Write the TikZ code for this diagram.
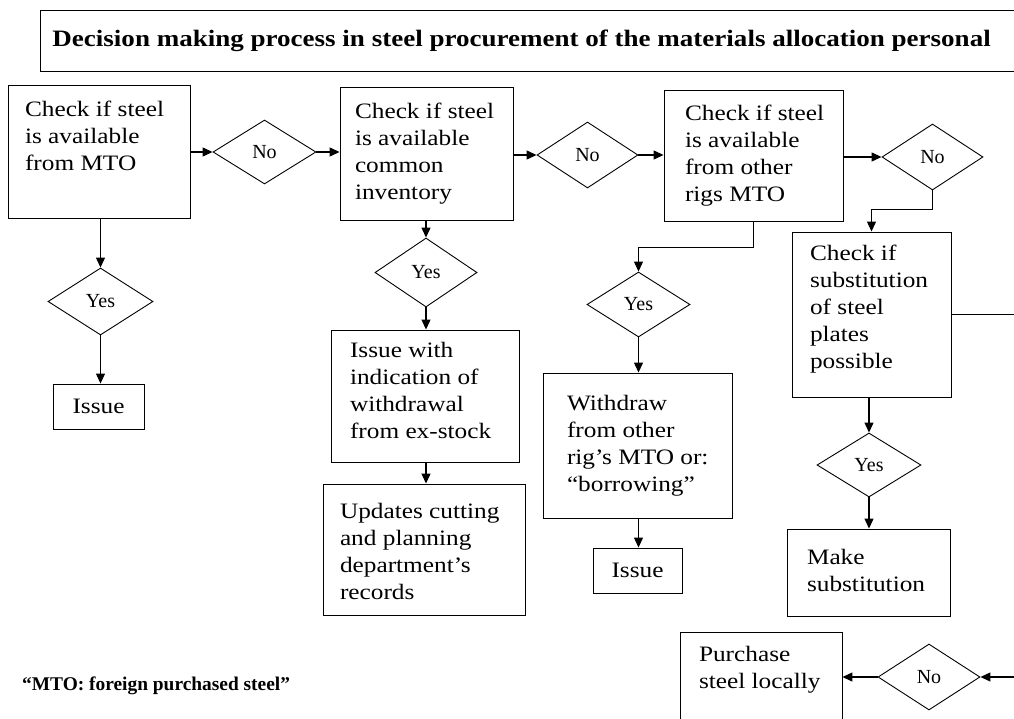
\documentclass[tikz,border=0pt]{standalone}
\usepackage{fontspec}
\setmainfont{Liberation Serif}[FakeStretch=1.15]
\newfontfamily\plainserif{Liberation Serif}
\usetikzlibrary{shapes.geometric,arrows.meta,calc}
% left-aligned block of lines in a fixed-width slot, optionally raised
\newcommand{\leftlines}[3][0]{\makebox[#2pt][l]{\raisebox{#1pt}[\height][\depth]{\begin{tabular}{@{}l@{}}#3\end{tabular}}}}
\tikzset{
  box/.style={draw, line width=0.9pt, inner sep=0pt, rectangle,
    font=\fontsize{22}{27}\selectfont},
  dia/.style={draw, diamond, line width=0.9pt, inner sep=0pt,
    font=\plainserif\fontsize{20}{24}\selectfont},
  arr/.style={line width=1.2pt, -{Triangle[length=10pt,width=9pt]}},
}
\begin{document}
\begin{tikzpicture}[x=1pt,y=-1pt]
\useasboundingbox (0,0) rectangle (1014,719);
\fill[white] (0,0) rectangle (1014,719);
\clip (0,0) rectangle (1014,719);

% heading
\node[box, anchor=north west, minimum width=1000pt, minimum height=61pt,
  font=\fontsize{23.5}{28}\selectfont\bfseries] (title) at (40,10)
  {\leftlines{976}{Decision making process in steel procurement of the materials allocation personal}};

% column 1: own MTO
\node[box, minimum width=182pt, minimum height=133pt] (chkmto) at (99,151.5)
  {\leftlines{148}{Check if steel\\is available\\from MTO\\~}};
\node[dia, minimum width=105pt, minimum height=67pt] (yesmto) at (100.5,301.5) {Yes};
\node[box, minimum width=91pt, minimum height=45pt] (issuemto) at (98.5,406.5) {Issue};

\node[dia, minimum width=103pt, minimum height=64pt] (nomto) at (264.5,152) {No};

% column 2: common inventory
\node[box, minimum width=173pt, minimum height=133pt] (chkinv) at (426.5,153.5)
  {\leftlines{143}{Check if steel\\is available\\common\\inventory}};
\node[dia, minimum width=102pt, minimum height=69pt] (yesinv) at (426,272.5) {Yes};
\node[box, minimum width=188pt, minimum height=132pt] (issueinv) at (425,396)
  {\leftlines[3]{150}{Issue with\\indication of\\withdrawal\\from ex-stock}};
\node[box, minimum width=202pt, minimum height=131pt] (update) at (424,549.5)
  {\leftlines[-4]{168}{Updates cutting\\and planning\\department's\\records}};

\node[dia, minimum width=101pt, minimum height=66pt] (noinv) at (587.5,155) {No};

% column 3: other rigs
\node[box, minimum width=179pt, minimum height=131pt] (chkrig) at (753.5,155.5)
  {\leftlines{137}{Check if steel\\is available\\from other\\rigs MTO}};
\node[dia, minimum width=103pt, minimum height=65pt] (yesrig) at (638.5,304.5) {Yes};
\node[box, minimum width=189pt, minimum height=145pt] (withdraw) at (637.5,445.5)
  {\leftlines{141}{Withdraw\\from other\\rig's MTO or:\\“borrowing”}};
\node[box, minimum width=89pt, minimum height=45pt] (issuerig) at (637.5,570.5) {Issue};

\node[dia, minimum width=101pt, minimum height=66pt] (norig) at (932.5,157) {No};

% column 4: substitution
\node[box, minimum width=159pt, minimum height=165pt] (chksub) at (871.5,314.5)
  {\leftlines[5]{123}{Check if\\substitution\\of steel\\plates\\possible}};
\node[dia, minimum width=104pt, minimum height=64pt] (yessub) at (869,465) {Yes};
\node[box, minimum width=163pt, minimum height=87pt] (makesub) at (868.5,572.5)
  {\leftlines{123}{Make\\substitution}};
\node[dia, minimum width=102pt, minimum height=66pt] (nosub) at (929,677) {No};
\node[box, minimum width=162pt, minimum height=124pt] (purchase) at (761,694)
  {\leftlines[-3]{124}{Purchase\\steel locally\\~\\~}};

% footnote
\node[anchor=west, inner sep=0pt, font=\plainserif\fontsize{19.4}{23}\selectfont\bfseries]
  (note) at (22,686) {“MTO: foreign purchased steel”};

\coordinate (rim) at (1030,0);

% main row
\draw[arr] (nomto.west -| chkmto.east) -- (nomto.west);
\draw[arr] (nomto.east) -- (nomto.east -| chkinv.west);
\draw[arr] (noinv.west -| chkinv.east) -- (noinv.west);
\draw[arr] (noinv.east) -- (noinv.east -| chkrig.west);
\draw[arr] (norig.west -| chkrig.east) -- (norig.west);
\draw[arr] (norig.south) -- ++(0,19) -| (chksub.north);

% column 1
\draw[arr] (yesmto.north |- chkmto.south) -- (yesmto.north);
\draw[arr] (yesmto.south) -- (yesmto.south |- issuemto.north);

% column 2
\draw[arr] (yesinv.north |- chkinv.south) -- (yesinv.north);
\draw[arr] (yesinv.south) -- (yesinv.south |- issueinv.north);
\draw[arr] (yesinv.south |- issueinv.south) -- (yesinv.south |- update.north);

% column 3
\draw[arr] (chkrig.south) -- ++(0,26) -| (yesrig.north);
\draw[arr] (yesrig.south) -- (yesrig.south |- withdraw.north);
\draw[arr] (yesrig.south |- withdraw.south) -- (yesrig.south |- issuerig.north);

% column 4
\draw[arr] (yessub.north |- chksub.south) -- (yessub.north);
\draw[arr] (yessub.south) -- (yessub.south |- makesub.north);
\draw[arr] (chksub.east) -- (chksub.east -| rim) -- (rim |- nosub.east) -- (nosub.east);
\draw[arr] (nosub.west) -- (nosub.west -| purchase.east);
\end{tikzpicture}
\end{document}
